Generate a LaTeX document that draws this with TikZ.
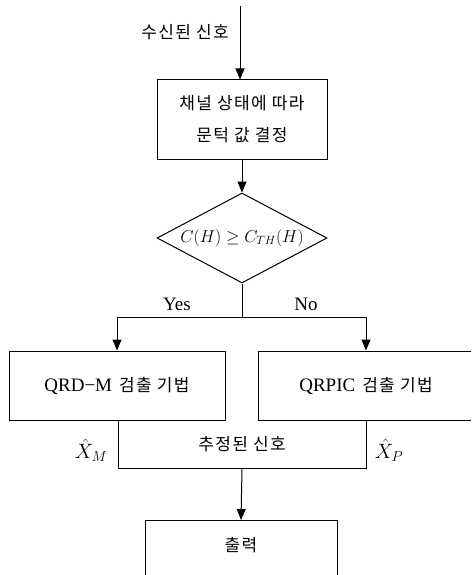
\documentclass[tikz,border=0pt]{standalone}
\usepackage{fontspec}
\setmainfont{Liberation Serif}
\newfontfamily\kr[LetterSpace=8]{Noto Sans CJK KR}
\usetikzlibrary{arrows.meta,shapes.geometric}
\begin{document}
\begin{tikzpicture}[x=1pt,y=-1pt,
  line width=1pt,
  arr/.style={-{Triangle[width=9pt,length=11pt]}},
  box/.style={draw,rectangle,inner sep=0pt,align=center},
  kt/.style={font=\fontsize{17}{32}\selectfont\kr},
  lt/.style={font=\fontsize{19}{22}\selectfont}
]
\useasboundingbox (0,0) rectangle (471,575);
\clip (0,0) rectangle (471,575);
\coordinate (in) at (240,6);
\node[kt] (inlab) at (185,32) {수신된 신호};
\node[box,kt,minimum width=170pt,minimum height=79pt] (thr) at (242,119.5) {채널 상태에 따라\\문턱 값 결정};
\node[draw,diamond,aspect=1.9,inner sep=0pt,minimum width=170pt,minimum height=90pt,font=\fontsize{17}{20}\selectfont] (dec) at (242,238) {$C(H)\geq C_{TH}(H)$};
\coordinate (br) at (242,317);
\node[box,minimum width=216pt,minimum height=69pt] (qrdm) at (117,385.5) {{\fontsize{19}{22}\selectfont QRD−M}\hspace{7pt}{\fontsize{17}{20}\selectfont\kr 검출 기법}};
\node[box,minimum width=216pt,minimum height=69pt] (qrpic) at (366,385.5) {{\fontsize{19}{22}\selectfont QRPIC}\hspace{7pt}{\fontsize{17}{20}\selectfont\kr 검출 기법}};
\node[kt,rectangle,inner sep=0pt,minimum width=248pt,minimum height=48pt] (est) at (242,444) {추정된 신호};
\node[box,minimum width=192pt,minimum height=80pt,anchor=north] (out) at (241,520) {};
\node[kt] (outlab) at (241,545) {출력};
\node[lt] (yes) at (177,304) {Yes};
\node[lt] (no) at (306,304) {No};
\node[font=\fontsize{20}{24}\selectfont] (xm) at (91,450) {$\hat{X}_M$};
\node[font=\fontsize{20}{24}\selectfont] (xp) at (389,450) {$\hat{X}_P$};
\draw[arr] (in) -- (in |- thr.north);
\draw[arr] (thr.south) -- (dec.north);
\draw (dec.south) -- (br);
\draw[arr] (br) -| (qrdm.north);
\draw[arr] (br) -| (qrpic.north);
\draw ([xshift=1pt]qrdm.south) -- ([xshift=1pt]qrdm.south |- est.south) -- (qrpic.south |- est.south) -- (qrpic.south);
\draw[arr] (est.south) -- (out.north);
\end{tikzpicture}
\end{document}
